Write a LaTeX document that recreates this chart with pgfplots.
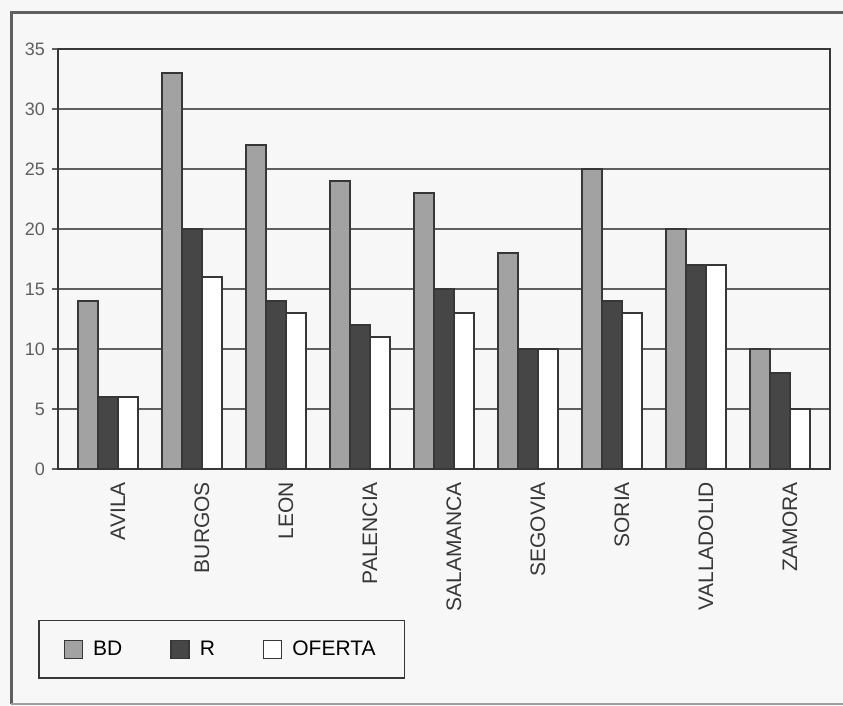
\documentclass[border=0pt]{standalone}
\usepackage{fontspec}
\setmainfont{Liberation Sans}
\usepackage{pgfplots}
\usepackage{pgfplotstable}
\pgfplotsset{compat=1.18}
\definecolor{bdgray}{RGB}{162,162,162}
\definecolor{rdark}{RGB}{70,70,70}
\definecolor{edge}{RGB}{55,55,55}
\definecolor{gridc}{RGB}{95,95,95}
\definecolor{paper}{RGB}{247,247,247}

% provincias: BD, R, OFERTA
\pgfplotstableread{
x BD R OFERTA
0 14 6 6
1 33 20 16
2 27 14 13
3 24 12 11
4 23 15 13
5 18 10 10
6 25 14 13
7 20 17 17
8 10 8 5
}\datos

\begin{document}
\begin{tikzpicture}[x=1pt,y=1pt]
\fill[paper] (0,0) rectangle (421.5,353);
\useasboundingbox (0,0) rectangle (421.5,353);
\draw[gridc, line width=1.5pt] (5.5,1) -- (5.5,346.5) -- (421.5,346.5);
\draw[gridc!60, line width=0.6pt] (5.5,1) -- (421.5,1);
\begin{axis}[
  at={(29pt,118.5pt)}, anchor=south west,
  scale only axis, width=386pt, height=210pt,
  ybar=0pt, bar width=0.238,
  xmin=-0.595, xmax=8.595, ymin=0, ymax=35,
  ytick={0,5,...,35},
  xtick=data,
  xticklabels={AVILA,BURGOS,LEON,PALENCIA,SALAMANCA,SEGOVIA,SORIA,VALLADOLID,ZAMORA},
  x tick label style={rotate=90, anchor=east, yshift=-5pt, text=edge,
    font=\fontsize{10.5}{12}\selectfont},
  y tick label style={text=gridc, font=\fontsize{9}{10}\selectfont},
  /pgf/number format/assume math mode=true,
  major x tick style={draw=none},
  ytick pos=left, tick align=outside, major tick length=3pt,
  ytick style={gridc, line width=0.7pt},
  ymajorgrids, grid style={gridc, line width=0.8pt},
  axis line style={edge, line width=0.9pt},
  legend columns=3,
  legend image code/.code={\draw[#1] (0pt,-4.5pt) rectangle (9pt,4.5pt); \path (12pt,0pt);},
  legend style={at={(-0.0259,-0.5)}, anchor=south west, draw=edge,
    line width=0.8pt, fill=paper, inner xsep=12.5pt, inner ysep=8pt,
    font=\fontsize{10.5}{12}\selectfont,
    /tikz/every even column/.append style={column sep=22pt}},
]
\addplot[fill=bdgray, draw=edge, line width=0.7pt] table[x=x, y=BD] {\datos};
\addplot[fill=rdark, draw=edge, line width=0.7pt] table[x=x, y=R] {\datos};
\addplot[fill=white, draw=edge, line width=0.7pt] table[x=x, y=OFERTA] {\datos};
\legend{BD, R, OFERTA}
\end{axis}
\end{tikzpicture}
\end{document}
